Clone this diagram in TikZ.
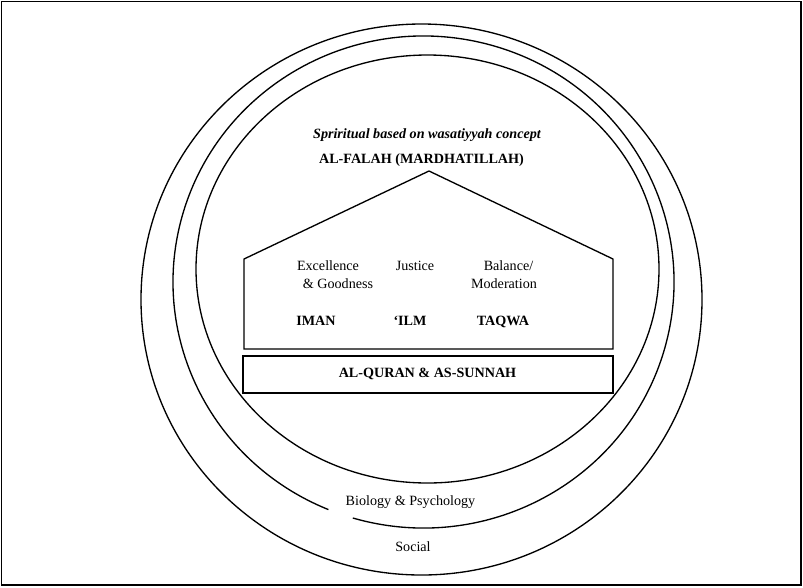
\documentclass[tikz,border=0pt]{standalone}
\usepackage{fontspec}
\setmainfont{Liberation Serif}
\begin{document}
\begin{tikzpicture}[x=0.75pt,y=0.75pt,line join=miter,
  ring/.style={line width=1pt},
  wall/.style={line width=1pt},
  lbl/.style={inner sep=0pt,anchor=base,font=\fontsize{10.6}{12.7}\selectfont},
  blbl/.style={inner sep=0pt,anchor=base,font=\fontsize{10.6}{12.7}\selectfont\bfseries},
  ilbl/.style={inner sep=0pt,anchor=base,font=\fontsize{10.6}{12.7}\selectfont\bfseries\itshape},
  basebox/.style={draw,line width=1.6pt,inner sep=0pt,minimum width=277.5pt,minimum height=27.75pt}]
\useasboundingbox (0,0) rectangle (803,-587);
% frame
\draw[line width=1pt] (1.5,-1.5) rectangle (801,-585);
% rings
\draw[ring] (421.5,-299.5) ellipse [x radius=280.5, y radius=275.5];
\draw[ring] ([shift={(-106.4:250.5 and 246)}]423.5,-282) arc[start angle=-106.4, end angle=247.7, x radius=250.5, y radius=246];
\draw[ring] (427.5,-269) ellipse [x radius=231.5, y radius=214];
% house
\coordinate (hbl) at (244,-349);
\coordinate (hwl) at (244,-259);
\coordinate (apex) at (429,-171);
\coordinate (hwr) at (613,-259);
\coordinate (hbr) at (613,-349);
\draw[wall] (hbl) -- (hwl) -- (apex) -- (hwr) -- (hbr) -- cycle;
\node[basebox] (quran) at (428,-374.5) {};
\node[blbl] (qurantext) at (427.5,-377.5) {AL-QURAN \& AS-SUNNAH};
% texts
\node[ilbl] (spirit) at (427,-138) {Spriritual based on wasatiyyah concept};
\node[blbl] (falah) at (421.5,-163) {AL-FALAH (MARDHATILLAH)};
\node[lbl] (exc) at (328,-270) {Excellence};
\node[lbl] (good) at (338,-288) {\& Goodness};
\node[lbl] (just) at (415,-270) {Justice};
\node[lbl] (bal) at (508.5,-270) {Balance/};
\node[lbl] (mod) at (504,-288) {Moderation};
\node[blbl] (iman) at (316,-325) {IMAN};
\node[blbl] (ilm) at (410,-325) {‘ILM};
\node[blbl] (taqwa) at (503,-325) {TAQWA};
\node[lbl] (bio) at (410.5,-505) {Biology \& Psychology};
\node[lbl] (social) at (413,-551) {Social};
\end{tikzpicture}
\end{document}
